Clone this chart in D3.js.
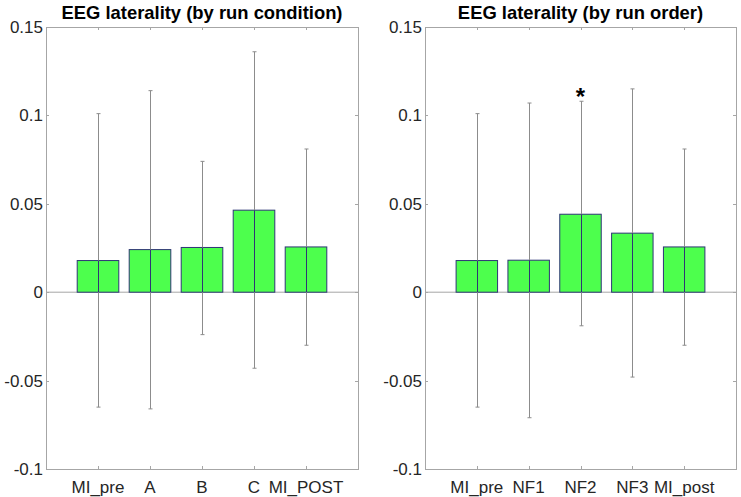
<!DOCTYPE html>
<html><head><meta charset="utf-8">
<script src="https://cdn.jsdelivr.net/npm/d3@7"></script>
<style>body{margin:0;background:#fff}svg{display:block}text{font-family:"Liberation Sans",Arial,sans-serif}</style>
</head><body>
<script>
const yTicks = [-0.1, -0.05, 0, 0.05, 0.1, 0.15];
const yTickLabels = ["-0.1", "-0.05", "0", "0.05", "0.1", "0.15"];

const condCategories = ["MI_pre", "A", "B", "C", "MI_POST"];
const condMeans = [0.0179, 0.0241, 0.0253, 0.0464, 0.0256];
const condUpper = [0.101, 0.114, 0.074, 0.136, 0.081];
const condLower = [-0.065, -0.066, -0.024, -0.043, -0.030];

const orderCategories = ["MI_pre", "NF1", "NF2", "NF3", "MI_post"];
const orderMeans = [0.0179, 0.0181, 0.0441, 0.0334, 0.0256];
const orderUpper = [0.101, 0.107, 0.108, 0.115, 0.081];
const orderLower = [-0.065, -0.071, -0.019, -0.048, -0.030];
const orderSignificant = ["NF2"];

const W = 741, H = 497;
const svg = d3.select("body").append("svg").attr("width", W).attr("height", H);

function panel(x0, x1, title, cats, means, upper, lower, sig) {
  const top = 27, bottom = 469;
  const x = d3.scaleLinear().domain([0, cats.length + 1]).range([x0, x1]);
  const y = d3.scaleLinear().domain([-0.1, 0.15]).range([bottom, top]);
  const g = svg.append("g");
  const axisColor = "#a6a6a6", textColor = "#262626";
  const bw = (x(1) - x(0)) * 0.8;

  // zero line
  g.append("line").attr("x1", x0).attr("x2", x1).attr("y1", y(0)).attr("y2", y(0))
    .attr("stroke", axisColor).attr("stroke-width", 1);

  // bars
  cats.forEach((c, i) => {
    const v = means[i];
    g.append("rect").attr("x", x(i + 1) - bw / 2).attr("width", bw)
      .attr("y", y(Math.max(v, 0))).attr("height", Math.abs(y(v) - y(0)))
      .attr("fill", "#4dff4d").attr("stroke", "#2e3575").attr("stroke-width", 1);
  });

  // error bars
  cats.forEach((c, i) => {
    const cx = Math.round(x(i + 1)) + 0.5;
    g.append("line").attr("x1", cx).attr("x2", cx).attr("y1", y(upper[i])).attr("y2", y(lower[i]))
      .attr("stroke", "#8c8c8c").attr("stroke-width", 1);
    g.append("line").attr("x1", cx).attr("x2", cx).attr("y1", y(means[i])).attr("y2", y(0))
      .attr("stroke", "#2e3575").attr("stroke-width", 1);
    [upper[i], lower[i]].forEach(v => {
      g.append("line").attr("x1", cx - 2).attr("x2", cx + 2).attr("y1", y(v)).attr("y2", y(v))
        .attr("stroke", "#8c8c8c").attr("stroke-width", 1);
    });
    if (sig.includes(c)) {
      g.append("text").attr("x", x(i + 1)).attr("y", y(upper[i]) + 4).attr("text-anchor", "middle")
        .attr("font-size", 24).attr("font-weight", "bold").attr("fill", "#000").text("*");
    }
  });

  // box
  g.append("rect").attr("x", x0 + 0.5).attr("y", top + 0.5).attr("width", x1 - x0).attr("height", bottom - top)
    .attr("fill", "none").attr("stroke", axisColor).attr("stroke-width", 1);

  // x ticks (inside, top and bottom)
  cats.forEach((c, i) => {
    const cx = Math.round(x(i + 1)) + 0.5;
    g.append("line").attr("x1", cx).attr("x2", cx).attr("y1", bottom).attr("y2", bottom - 3).attr("stroke", axisColor);
    g.append("line").attr("x1", cx).attr("x2", cx).attr("y1", top).attr("y2", top + 3).attr("stroke", axisColor);
    g.append("text").attr("x", x(i + 1)).attr("y", bottom + 24).attr("text-anchor", "middle")
      .attr("font-size", 17).attr("fill", textColor).text(c);
  });

  // y ticks
  yTicks.forEach((t, i) => {
    const yy = Math.round(y(t)) + 0.5;
    g.append("line").attr("x1", x0).attr("x2", x0 + 3).attr("y1", yy).attr("y2", yy).attr("stroke", axisColor);
    g.append("line").attr("x1", x1).attr("x2", x1 - 3).attr("y1", yy).attr("y2", yy).attr("stroke", axisColor);
    g.append("text").attr("x", x0 - 3).attr("y", y(t) + 6).attr("text-anchor", "end")
      .attr("font-size", 17).attr("fill", textColor).text(yTickLabels[i]);
  });

  // title
  g.append("text").attr("x", (x0 + x1) / 2).attr("y", 19).attr("text-anchor", "middle")
    .attr("font-size", 18.4).attr("font-weight", "bold").attr("fill", "#000").text(title);
}

panel(46, 358, "EEG laterality (by run condition)", condCategories, condMeans, condUpper, condLower, []);
panel(425, 736, "EEG laterality (by run order)", orderCategories, orderMeans, orderUpper, orderLower, orderSignificant);
</script>
</body></html>
